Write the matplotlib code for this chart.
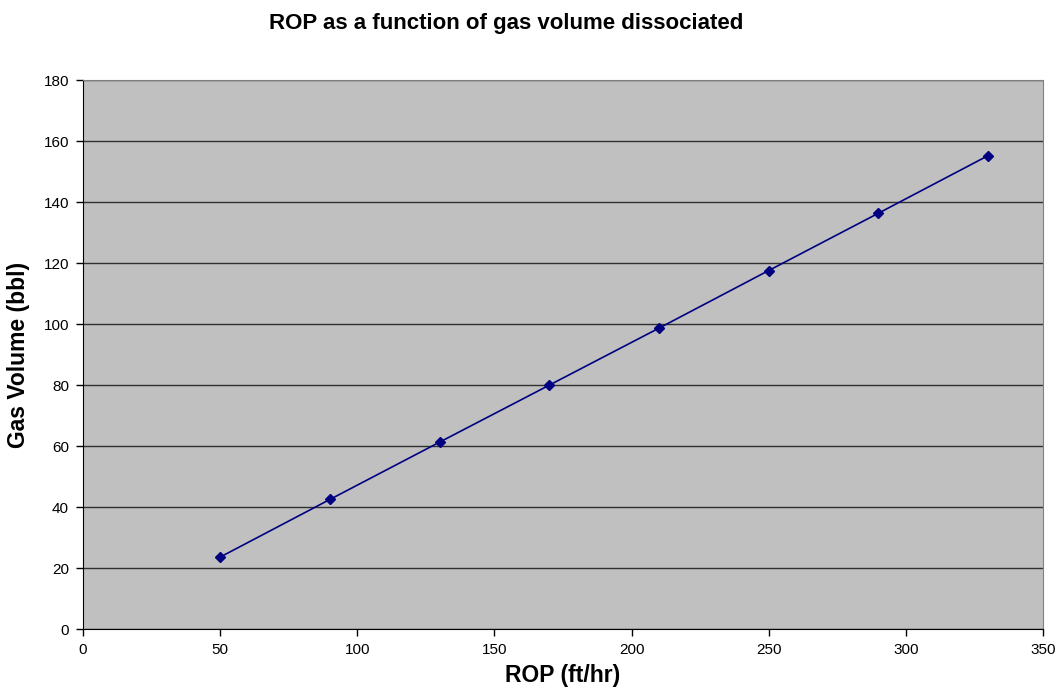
import matplotlib.pyplot as plt

plt.rcParams['font.family'] = ['Liberation Sans', 'DejaVu Sans']

# ROP (ft/hr) vs dissociated gas volume (bbl)
rop = [50, 90, 130, 170, 210, 250, 290, 330]
gas_volume = [23.6, 42.5, 61.3, 80.0, 98.7, 117.6, 136.4, 155.3]

fig = plt.figure(figsize=(10.6, 6.92), dpi=100)
ax = fig.add_axes([0.0783, 0.091, 0.9057, 0.793])
ax.set_facecolor('#c0c0c0')

ax.plot(rop, gas_volume, color='#000080', linewidth=1.2,
        marker='D', markersize=5.5, markerfacecolor='#000080',
        markeredgecolor='#000080')

ax.set_xlim(0, 350)
ax.set_ylim(0, 180)
ax.set_xticks(range(0, 351, 50))
ax.set_yticks(range(0, 181, 20))
ax.yaxis.grid(True, color='#303030', linewidth=1)
ax.set_axisbelow(True)

for side in ['top', 'right']:
    ax.spines[side].set_color('#808080')
for side in ['left', 'bottom']:
    ax.spines[side].set_color('black')
ax.tick_params(direction='out', length=5, width=1, labelsize=11, pad=5)

ax.set_xlabel('ROP (ft/hr)', fontsize=16.5, fontweight='bold', labelpad=5)
ax.set_ylabel('Gas Volume (bbl)', fontsize=16.5, fontweight='bold', labelpad=10)
fig.text(0.478, 0.966, 'ROP as a function of gas volume dissociated',
         ha='center', va='center', fontsize=16, fontweight='bold')

fig.savefig('out.png', dpi=100)
